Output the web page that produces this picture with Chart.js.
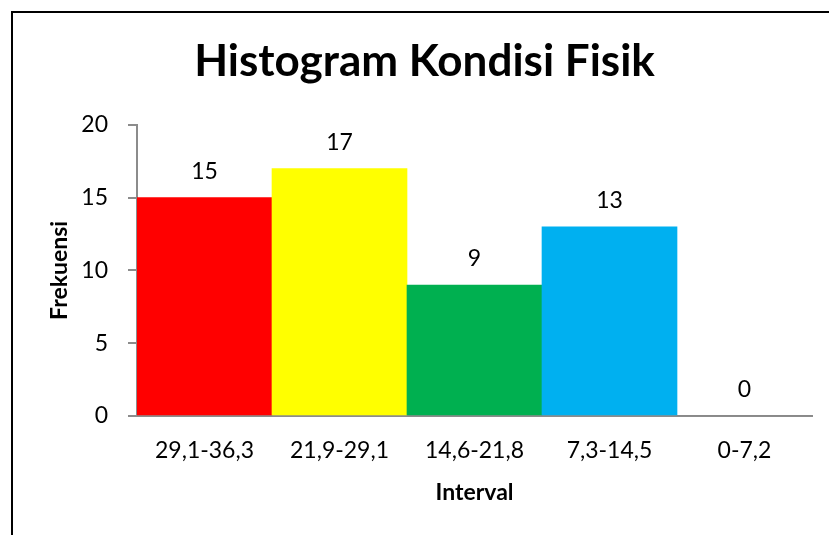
<!DOCTYPE html>
<html>
<head>
<meta charset="utf-8">
<script src="https://cdn.jsdelivr.net/npm/chart.js@4"></script>
<style>
  html, body { margin: 0; padding: 0; background: #fff; overflow: hidden; }
  #wrap { position: relative; width: 829px; height: 535px; overflow: hidden; }
  #frame { position: absolute; left: 11px; top: 11px; width: 900px; height: 700px; border: 2px solid #000; box-sizing: border-box; pointer-events: none; }
  canvas { position: absolute; left: 0; top: 0; }
</style>
</head>
<body>
<div id="wrap">
  <canvas id="c" width="829" height="535"></canvas>
  <div id="frame"></div>
</div>
<script>
const categories = ["29,1-36,3", "21,9-29,1", "14,6-21,8", "7,3-14,5", "0-7,2"];
const frequencies = [15, 17, 9, 13, 0];
const barColors = ["#FF0000", "#FFFF00", "#00B050", "#00B0F0", "#7F7F7F"];
const yTicks = [0, 5, 10, 15, 20];

const FONT = "Lato, 'Open Sans', sans-serif";

const valueLabels = {
  id: 'valueLabels',
  afterDatasetsDraw(chart) {
    const ctx = chart.ctx;
    const meta = chart.getDatasetMeta(0);
    ctx.save();
    ctx.font = "23px " + FONT;
    ctx.fillStyle = "#000";
    ctx.textAlign = "center";
    ctx.textBaseline = "middle";
    meta.data.forEach((bar, i) => {
      ctx.fillText(String(frequencies[i]), bar.x, bar.y - 26);
    });
    ctx.restore();
  }
};

new Chart(document.getElementById('c'), {
  type: 'bar',
  data: {
    labels: categories,
    datasets: [{
      data: frequencies,
      backgroundColor: barColors,
      borderWidth: 0,
      barPercentage: 1.0,
      categoryPercentage: 1.0
    }]
  },
  options: {
    responsive: false,
    animation: false,
    layout: { padding: { left: 37, right: 17, top: 0, bottom: 0 } },
    plugins: {
      legend: { display: false },
      tooltip: { enabled: false },
      title: {
        display: true,
        text: "Histogram Kondisi Fisik",
        color: "#000",
        font: { family: FONT, size: 44, weight: 'bold' },
        padding: { top: 35, bottom: 37 }
      }
    },
    scales: {
      x: {
        grid: { display: false, drawTicks: false },
        border: { display: true, color: '#8c8c8c', width: 2 },
        ticks: { color: '#000', font: { family: FONT, size: 23 }, padding: 21, maxRotation: 0 },
        title: { display: true, text: "Interval", color: '#000', font: { family: FONT, size: 23, weight: 'bold' }, padding: { top: 4, bottom: 29 } },
        afterFit(scale) { scale.height = 119; }
      },
      y: {
        min: 0, max: 20,
        afterBuildTicks(scale) { scale.ticks = yTicks.map(v => ({ value: v })); },
        grid: { drawOnChartArea: false, drawTicks: true, tickLength: 9, color: '#8c8c8c', lineWidth: 2 },
        border: { display: true, color: '#8c8c8c', width: 2 },
        ticks: { color: '#000', font: { family: FONT, size: 23 }, padding: 20 },
        title: { display: true, text: "Frekuensi", color: '#000', font: { family: FONT, size: 23, weight: 'bold' }, padding: { top: 9, bottom: 0 } },
        afterFit(scale) { scale.width = 100; }
      }
    }
  },
  plugins: [valueLabels]
});
</script>
</body>
</html>
